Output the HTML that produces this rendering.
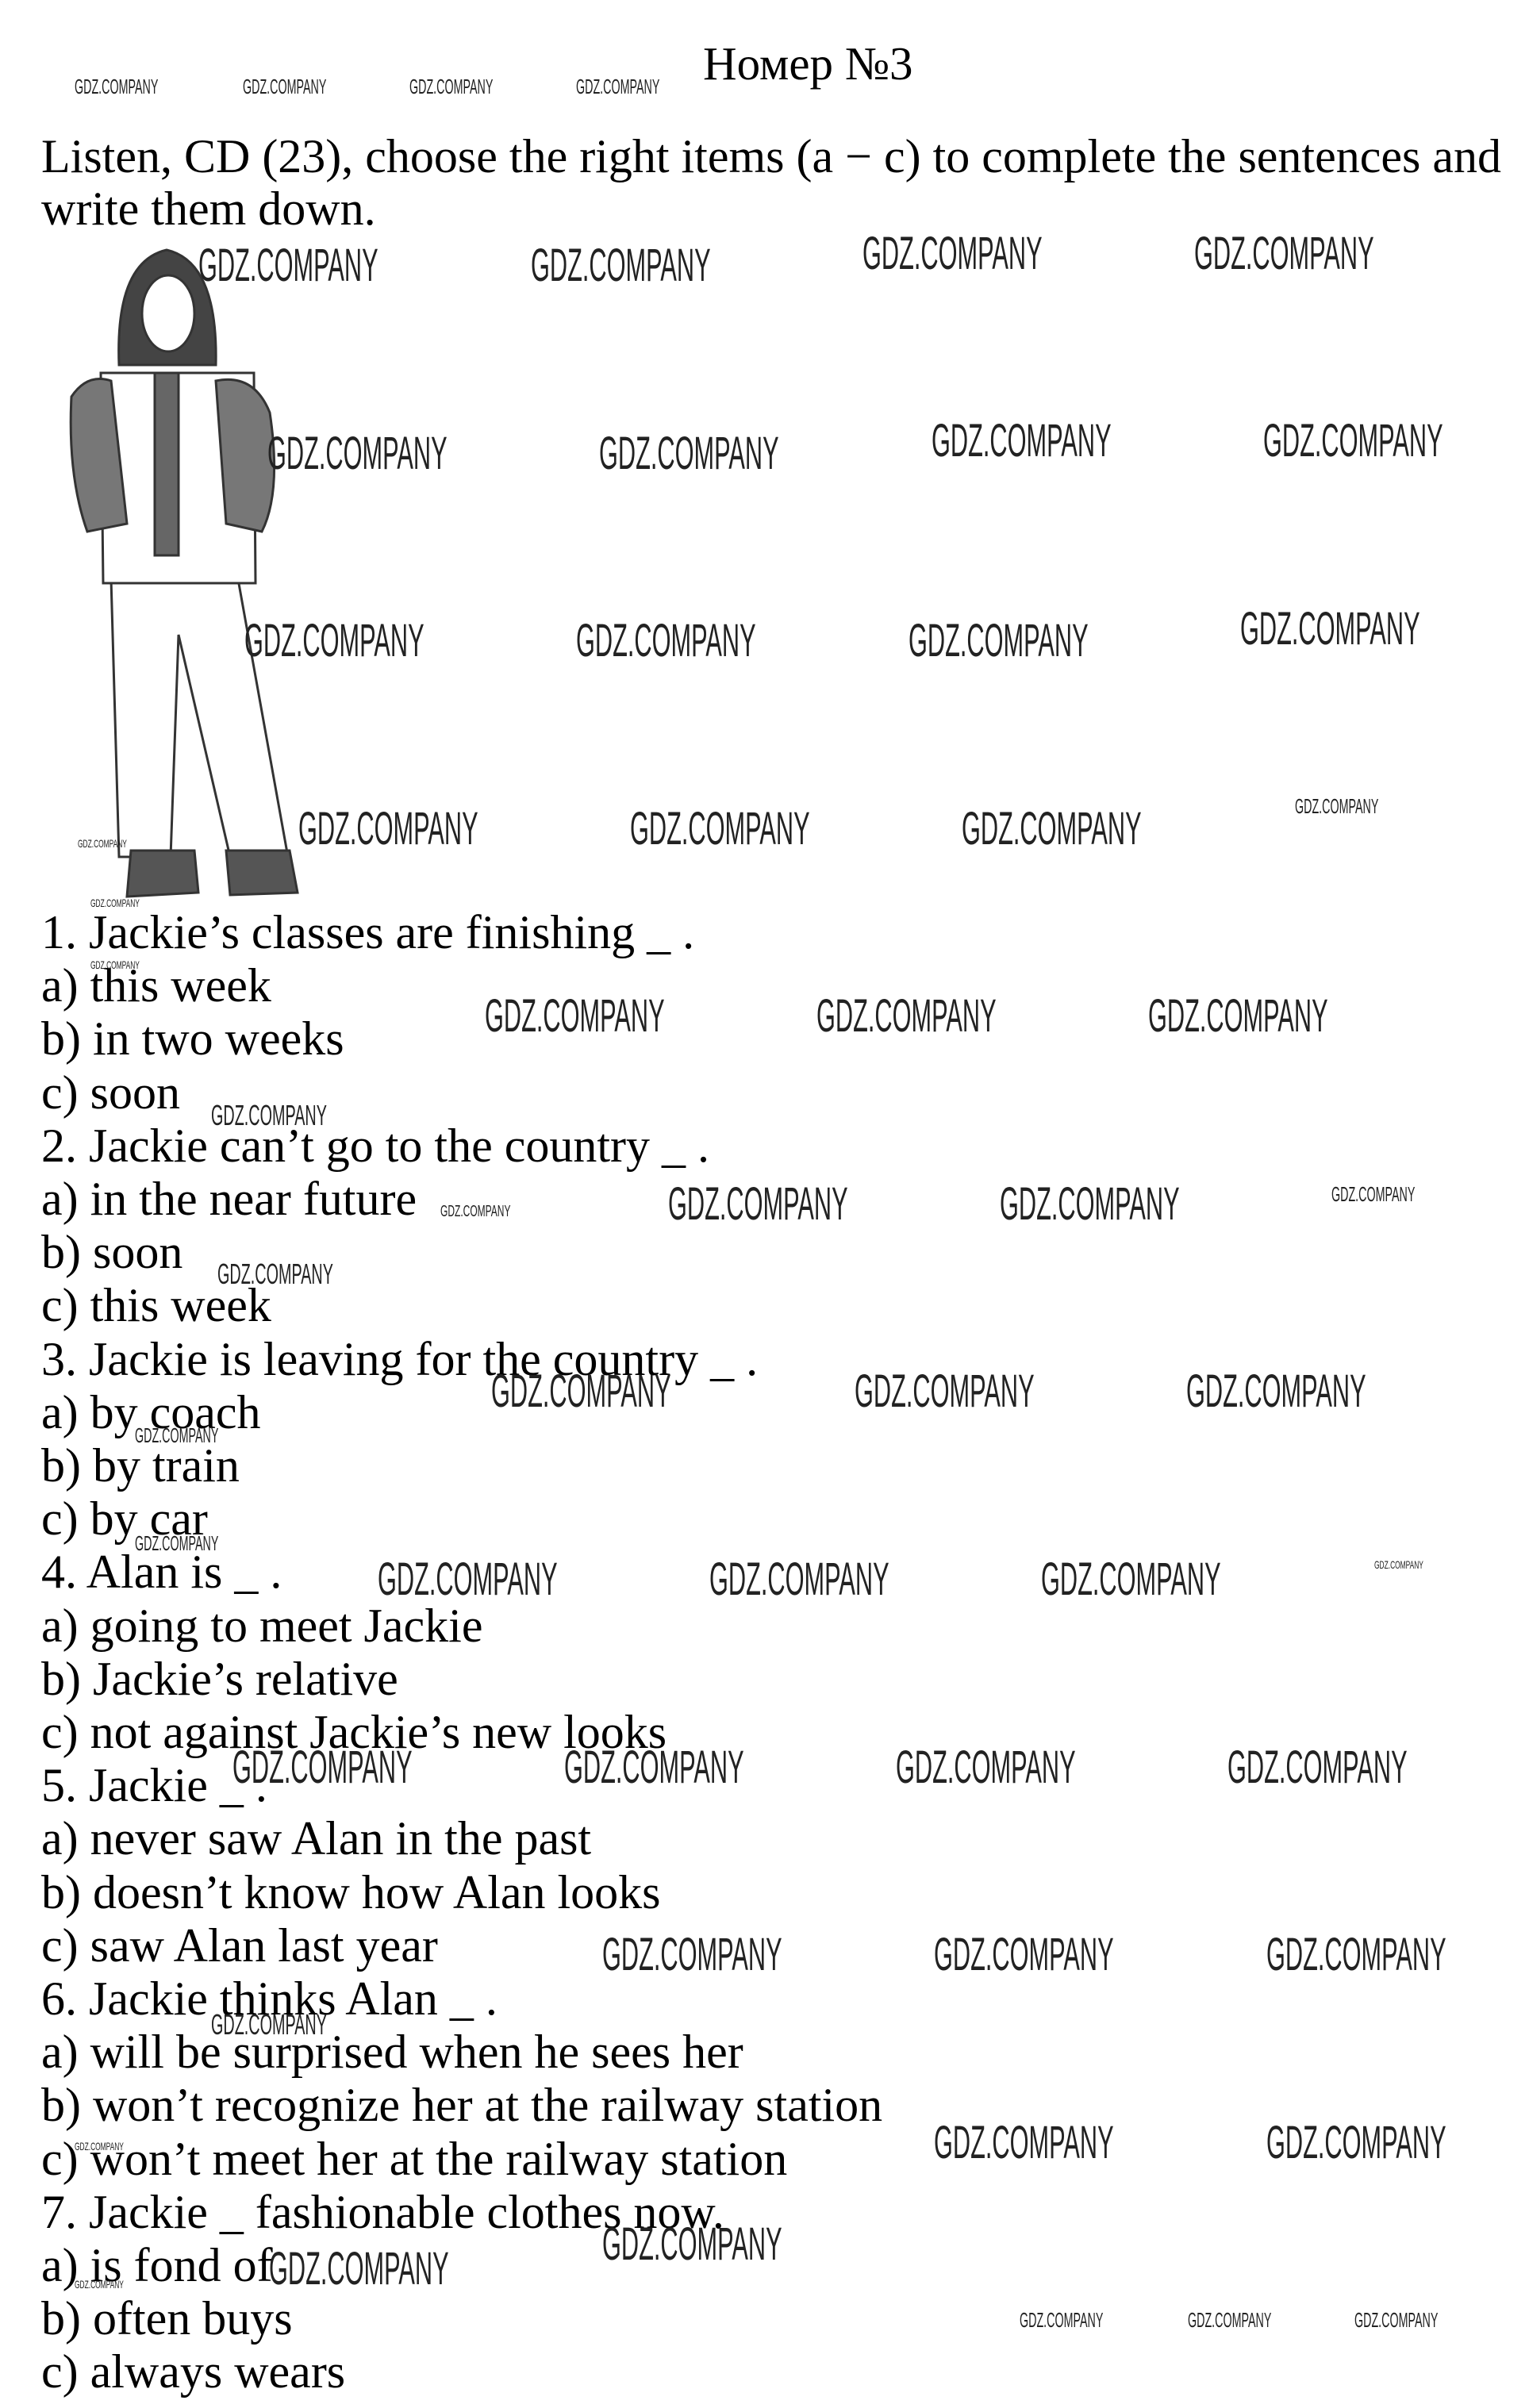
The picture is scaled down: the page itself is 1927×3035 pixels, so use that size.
<!DOCTYPE html>
<html><head><meta charset="utf-8"><style>
html,body{margin:0;padding:0;background:#fff;}
body{width:1927px;height:3035px;position:relative;overflow:hidden;}
.t{position:absolute;font-family:"Liberation Serif",serif;color:#000;white-space:nowrap;}
.w{position:absolute;font-family:"Liberation Sans",sans-serif;color:#222;white-space:nowrap;transform-origin:0 0;line-height:1;}
.L{font-size:58px;transform:scaleX(0.53);}
.M{font-size:36px;transform:scaleX(0.55);}
.S{font-size:26px;transform:scaleX(0.55);}
.X{font-size:14px;transform:scaleX(0.6);}
</style></head><body>
<div class="t" style="left:886px;top:50px;font-size:59px;line-height:60px;">Номер №3</div>
<div class="t" style="left:52px;top:164px;font-size:60px;line-height:66px;">Listen, CD (23), choose the right items (a − c) to complete the sentences and<br>write them down.</div>

<svg style="position:absolute;left:0;top:0" width="420" height="1160">
<g stroke="#333" stroke-width="3" fill="#fff">
<path d="M140 730 L300 730 L362 1075 L290 1080 L225 800 L215 1080 L150 1080 Z"/>
<path d="M127 470 L320 470 L322 735 L130 735 Z"/>
<path d="M90 500 Q110 470 140 480 L160 660 L110 670 Q85 600 90 500 Z" fill="#777"/>
<path d="M272 480 Q320 470 340 520 Q355 620 330 670 L285 660 Z" fill="#777"/>
<path d="M195 470 L225 470 L225 700 L195 700 Z" fill="#666"/>
<path d="M150 460 Q145 330 210 315 Q275 330 272 460 Z" fill="#444"/>
<ellipse cx="212" cy="395" rx="33" ry="48" fill="#fff"/>
<path d="M165 1072 L245 1072 L250 1125 L160 1130 Z" fill="#555"/>
<path d="M285 1072 L365 1072 L375 1125 L290 1128 Z" fill="#555"/>
</g>
</svg>

<div class="t" style="left:52px;top:1142px;font-size:60px;line-height:67.2px;">
1. Jackie’s classes are finishing _ .<br>a) this week<br>b) in two weeks<br>c) soon<br>
2. Jackie can’t go to the country _ .<br>a) in the near future<br>b) soon<br>c) this week<br>
3. Jackie is leaving for the country _ .<br>a) by coach<br>b) by train<br>c) by car<br>
4. Alan is _ .<br>a) going to meet Jackie<br>b) Jackie’s relative<br>c) not against Jackie’s new looks<br>
5. Jackie _ .<br>a) never saw Alan in the past<br>b) doesn’t know how Alan looks<br>c) saw Alan last year<br>
6. Jackie thinks Alan _ .<br>a) will be surprised when he sees her<br>b) won’t recognize her at the railway station<br>c) won’t meet her at the railway station<br>
7. Jackie _ fashionable clothes now.<br>a) is fond of<br>b) often buys<br>c) always wears</div>

<div class="w S" style="left:94px;top:96px">GDZ.COMPANY</div>
<div class="w S" style="left:306px;top:96px">GDZ.COMPANY</div>
<div class="w S" style="left:516px;top:96px">GDZ.COMPANY</div>
<div class="w S" style="left:726px;top:96px">GDZ.COMPANY</div>

<div class="w L" style="left:250px;top:306px">GDZ.COMPANY</div>
<div class="w L" style="left:669px;top:306px">GDZ.COMPANY</div>
<div class="w L" style="left:1087px;top:291px">GDZ.COMPANY</div>
<div class="w L" style="left:1505px;top:291px">GDZ.COMPANY</div>

<div class="w L" style="left:337px;top:543px">GDZ.COMPANY</div>
<div class="w L" style="left:755px;top:543px">GDZ.COMPANY</div>
<div class="w L" style="left:1174px;top:527px">GDZ.COMPANY</div>
<div class="w L" style="left:1592px;top:527px">GDZ.COMPANY</div>

<div class="w L" style="left:308px;top:779px">GDZ.COMPANY</div>
<div class="w L" style="left:726px;top:779px">GDZ.COMPANY</div>
<div class="w L" style="left:1145px;top:779px">GDZ.COMPANY</div>
<div class="w L" style="left:1563px;top:764px">GDZ.COMPANY</div>

<div class="w L" style="left:376px;top:1016px">GDZ.COMPANY</div>
<div class="w L" style="left:794px;top:1016px">GDZ.COMPANY</div>
<div class="w L" style="left:1212px;top:1016px">GDZ.COMPANY</div>
<div class="w S" style="left:1632px;top:1003px">GDZ.COMPANY</div>

<div class="w L" style="left:611px;top:1252px">GDZ.COMPANY</div>
<div class="w L" style="left:1029px;top:1252px">GDZ.COMPANY</div>
<div class="w L" style="left:1447px;top:1252px">GDZ.COMPANY</div>

<div class="w L" style="left:842px;top:1489px">GDZ.COMPANY</div>
<div class="w L" style="left:1260px;top:1489px">GDZ.COMPANY</div>
<div class="w S" style="left:1678px;top:1492px">GDZ.COMPANY</div>

<div class="w L" style="left:619px;top:1725px">GDZ.COMPANY</div>
<div class="w L" style="left:1077px;top:1725px">GDZ.COMPANY</div>
<div class="w L" style="left:1495px;top:1725px">GDZ.COMPANY</div>

<div class="w L" style="left:476px;top:1962px">GDZ.COMPANY</div>
<div class="w L" style="left:894px;top:1962px">GDZ.COMPANY</div>
<div class="w L" style="left:1312px;top:1962px">GDZ.COMPANY</div>
<div class="w X" style="left:1732px;top:1965px">GDZ.COMPANY</div>

<div class="w L" style="left:293px;top:2199px">GDZ.COMPANY</div>
<div class="w L" style="left:711px;top:2199px">GDZ.COMPANY</div>
<div class="w L" style="left:1129px;top:2199px">GDZ.COMPANY</div>
<div class="w L" style="left:1547px;top:2199px">GDZ.COMPANY</div>

<div class="w L" style="left:759px;top:2435px">GDZ.COMPANY</div>
<div class="w L" style="left:1177px;top:2435px">GDZ.COMPANY</div>
<div class="w L" style="left:1596px;top:2435px">GDZ.COMPANY</div>

<div class="w L" style="left:1177px;top:2672px">GDZ.COMPANY</div>
<div class="w L" style="left:1596px;top:2672px">GDZ.COMPANY</div>
<div class="w L" style="left:759px;top:2800px">GDZ.COMPANY</div>
<div class="w L" style="left:339px;top:2831px">GDZ.COMPANY</div>

<div class="w M" style="left:266px;top:1388px">GDZ.COMPANY</div>
<div class="w M" style="left:274px;top:1588px">GDZ.COMPANY</div>
<div class="w S" style="left:170px;top:1796px">GDZ.COMPANY</div>
<div class="w S" style="left:170px;top:1932px">GDZ.COMPANY</div>
<div class="w M" style="left:266px;top:2534px">GDZ.COMPANY</div>
<div class="w X" style="left:555px;top:1517px;font-size:20px">GDZ.COMPANY</div>
<div class="w S" style="left:1285px;top:2911px">GDZ.COMPANY</div>
<div class="w S" style="left:1497px;top:2911px">GDZ.COMPANY</div>
<div class="w S" style="left:1707px;top:2911px">GDZ.COMPANY</div>

<div class="w X" style="left:98px;top:1056px">GDZ.COMPANY</div>
<div class="w X" style="left:114px;top:1131px">GDZ.COMPANY</div>
<div class="w X" style="left:114px;top:1209px">GDZ.COMPANY</div>
<div class="w X" style="left:94px;top:2698px">GDZ.COMPANY</div>
<div class="w X" style="left:94px;top:2872px">GDZ.COMPANY</div>
</body></html>
